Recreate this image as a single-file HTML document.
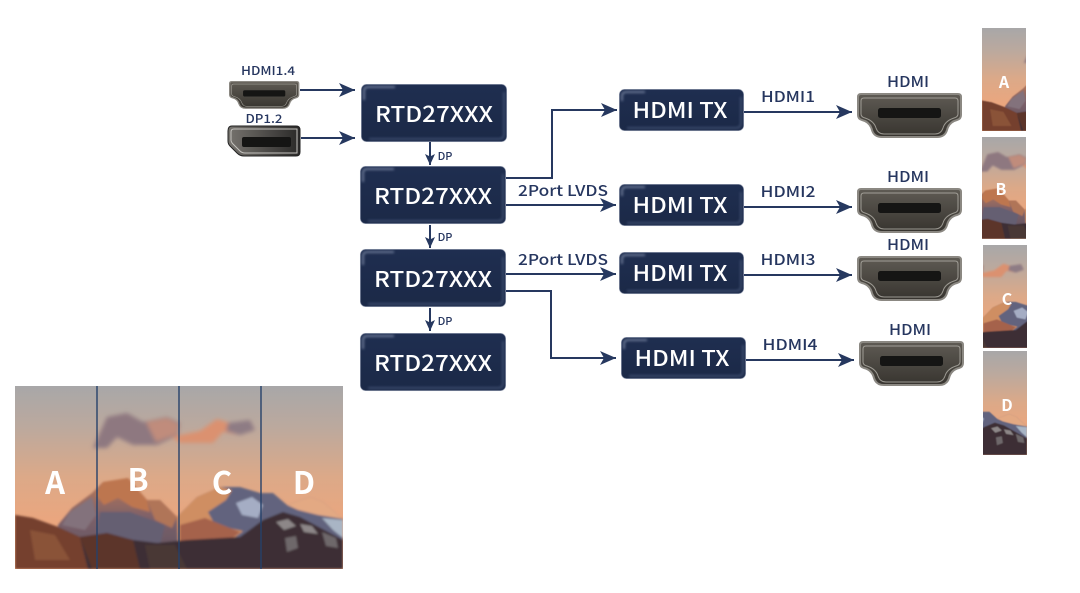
<!DOCTYPE html>
<html lang="en">
<head>
<meta charset="utf-8">
<title>RTD27XXX HDMI diagram</title>
<style>
html,body{margin:0;padding:0;background:#fff;}
svg{display:block;}
text{font-family:"Noto Sans CJK SC","Liberation Sans",sans-serif;}
.bx{fill:#fff;font-weight:500;text-anchor:middle;font-size:22px;}
.lb{fill:#26365f;font-weight:500;text-anchor:middle;font-size:15px;}
.ln{fill:none;stroke:#26385f;stroke-width:2;}
.ph{fill:#fff;font-weight:700;text-anchor:middle;}
</style>
</head>
<body>
<svg width="1080" height="593" viewBox="0 0 1080 593" xmlns="http://www.w3.org/2000/svg">
<defs>
  <linearGradient id="sky2" x1="0" y1="0" x2="0" y2="1">
    <stop offset="0" stop-color="#a8a7a8"/>
    <stop offset=".22" stop-color="#bba99e"/>
    <stop offset=".5" stop-color="#dca988"/>
    <stop offset=".75" stop-color="#eba67e"/>
    <stop offset="1" stop-color="#eba67e"/>
  </linearGradient>
  <linearGradient id="mL" x1="0" y1="0" x2="0" y2="1">
    <stop offset="0" stop-color="#bd7a56"/>
    <stop offset=".45" stop-color="#7c6069"/>
    <stop offset="1" stop-color="#57505e"/>
  </linearGradient>
  <linearGradient id="box" x1="0" y1="0" x2="0" y2="1">
    <stop offset="0" stop-color="#1f2e50"/>
    <stop offset="1" stop-color="#1b2947"/>
  </linearGradient>
  <linearGradient id="conn" x1="0" y1="0" x2="0" y2="1">
    <stop offset="0" stop-color="#5f5b54"/>
    <stop offset="1" stop-color="#37342f"/>
  </linearGradient>
  <linearGradient id="conn2" x1="0" y1="0" x2="1" y2="0">
    <stop offset="0" stop-color="#76736e"/>
    <stop offset="1" stop-color="#2a2928"/>
  </linearGradient>
  <filter id="b1" x="-5%" y="-5%" width="110%" height="110%"><feGaussianBlur stdDeviation="1"/></filter>
  <filter id="b2" x="-20%" y="-40%" width="140%" height="180%"><feGaussianBlur stdDeviation="2"/></filter>
  <filter id="hb" x="-30%" y="-30%" width="160%" height="160%"><feGaussianBlur stdDeviation="1.4"/></filter>
  <clipPath id="cp"><rect x="15" y="386" width="328" height="183"/></clipPath>
  <g id="scene" clip-path="url(#cp)">
    <rect x="15" y="386" width="328" height="183" fill="url(#sky2)"/>
    <g filter="url(#b2)">
      <path d="M93 448L107 417L127 413L143 422L167 417L180 423L178 435L157 445L133 445L117 437L107 448Z" fill="#8e7880"/>
      <path d="M146 422L167 418L179 424L177 434L156 442Z" fill="#c08c7c"/>
      <path d="M172 437L200 431L217 419L233 424L250 420L255 430L240 435L223 432L213 443L180 443Z" fill="#db9170"/>
      <path d="M228 423L250 420L255 430L240 435L226 431Z" fill="#8e7b84"/>
    </g>
    <g filter="url(#b1)">
      <path d="M58 525L72 508L92 493L103 482L128 478L147 500L160 500L177 517V569H58Z" fill="url(#mL)"/>
      <path d="M96 495L103 482L128 478L147 500L150 512L132 507L118 498L104 505Z" fill="#bd7650"/>
      <path d="M147 500L160 500L177 517L172 528L155 520Z" fill="#b07458"/>
      <path d="M70 512L92 497L96 515L85 530L62 525Z" fill="#83727c"/>
      <path d="M100 512L130 512L165 525L160 545H95Z" fill="#655e72"/>
      <path d="M177 517L197 497L220 487L240 487L260 493L273 493L287 505L310 497L323 502L343 519V569H177Z" fill="#62637e"/>
      <path d="M177 517L197 497L220 487L232 490L226 500L208 512L215 525L243 531L225 545H178Z" fill="#cf8e62"/>
      <path d="M180 525L205 518L240 532L220 548H180Z" fill="#a5624c"/>
      <path d="M236 503L252 497L263 505L258 518L242 515Z" fill="#a5adc4"/>
      <path d="M287 505L310 497L323 502L343 519L318 515L298 510Z" fill="#e3a983"/>
      <path d="M322 518L343 520V538L333 530Z" fill="#a9b5c5"/>
      <path d="M15 515L33 518L58 527L80 537L107 533L133 540L157 543L187 540L240 537L263 520L283 512L300 517L343 540V569H15Z" fill="#3d2f35"/>
      <path d="M15 515L33 518L58 527L80 537L88 569H15Z" fill="#74412f"/>
      <path d="M30 530L55 535L70 560L35 560Z" fill="#8a5238"/>
      <path d="M80 537L107 533L133 540L140 569H92Z" fill="#5c352c"/>
      <path d="M145 545L175 545L187 569H150Z" fill="#4a3835"/>
      <path d="M276 522L288 519L296 526L284 530Z" fill="#8d8788"/>
      <path d="M300 524L312 526L318 534L304 532Z" fill="#8d8788"/>
      <path d="M285 538L296 536L298 548L287 552Z" fill="#6e686a"/>
      <path d="M322 532L336 538L338 548L326 546Z" fill="#6e686a"/>
    </g>
  </g>
  <path id="hp" d="M4 1H101Q104 1 104 4V22Q104 26 100 27Q92 29 90 37Q88 44 80 44H25Q17 44 15 37Q13 29 5 27Q1 26 1 22V4Q1 1 4 1Z"/>
  <g id="hdmi">
    <use href="#hp" fill="url(#conn)" stroke="#8b8882" stroke-width="2"/>
    <path d="M7 5H98Q101 5 101 8V21Q101 24 97 25Q88 28 86 35Q84 41 78 41H27Q21 41 19 35Q17 28 8 25Q4 24 4 21V8Q4 5 7 5Z" fill="none" stroke="#b3b0a9" stroke-width="1" stroke-opacity=".8"/>
    <rect x="21" y="15" width="63" height="10" rx="2.5" fill="#151514"/>
  </g>
  <marker id="ah" markerUnits="userSpaceOnUse" markerWidth="18" markerHeight="14" refX="16" refY="7" orient="auto">
    <path d="M0 0L16 7L0 14L4 7Z" fill="#26385f"/>
  </marker>
  <marker id="ah2" markerUnits="userSpaceOnUse" markerWidth="12" markerHeight="10" refX="11" refY="5" orient="auto">
    <path d="M0 0L11 5L0 10L2.5 5Z" fill="#26385f"/>
  </marker>
  <g id="bigbox">
    <rect x=".5" y=".5" width="145" height="57" rx="5" fill="url(#box)" stroke="#4a5877" stroke-opacity=".5"/>
    <path d="M3 16V7Q3 3 7 3H34" fill="none" stroke="#8d9ab4" stroke-width="2" opacity=".7" filter="url(#hb)"/>
    <path d="M143 8V50Q143 55 138 55H8" fill="none" stroke="#4a5a7c" stroke-width="2" opacity=".7" filter="url(#hb)"/>
  </g>
  <g id="txbox">
    <rect x=".5" y=".5" width="124" height="41" rx="5" fill="url(#box)" stroke="#4a5877" stroke-opacity=".5"/>
    <path d="M3 12V7Q3 3 7 3H26" fill="none" stroke="#8d9ab4" stroke-width="2" opacity=".7" filter="url(#hb)"/>
    <path d="M122 8V34Q122 39 117 39H8" fill="none" stroke="#4a5a7c" stroke-width="2" opacity=".7" filter="url(#hb)"/>
  </g>
  <clipPath id="ca"><rect x="982" y="28" width="44" height="103"/></clipPath>
  <clipPath id="cb"><rect x="982" y="137" width="44" height="102"/></clipPath>
  <clipPath id="cc"><rect x="983" y="245" width="44" height="103"/></clipPath>
  <clipPath id="cd"><rect x="983" y="351" width="44" height="104"/></clipPath>
</defs>

<rect width="1080" height="593" fill="#fff"/>

<!-- big photo -->
<use href="#scene"/>
<path d="M97 386V569M179 386V569M261 386V569" stroke="#26416a" stroke-width="1.4"/>
<text class="ph" x="55" y="494" style="font-size:31px">A</text>
<text class="ph" x="138" y="491" style="font-size:31px">B</text>
<text class="ph" x="222" y="494" style="font-size:31px">C</text>
<text class="ph" x="304" y="494" style="font-size:31px">D</text>

<!-- side slices -->
<g clip-path="url(#ca)"><use href="#scene" transform="translate(982,28) scale(.537,.563) translate(-15,-386)"/></g>
<g clip-path="url(#cb)"><use href="#scene" transform="translate(982,137) scale(.537,.557) translate(-97,-386)"/></g>
<g clip-path="url(#cc)"><use href="#scene" transform="translate(983,245) scale(.537,.563) translate(-179,-386)"/></g>
<g clip-path="url(#cd)"><use href="#scene" transform="translate(983,351) scale(.537,.568) translate(-261,-386)"/></g>
<text class="ph" x="1004" y="88" style="font-size:16px">A</text>
<text class="ph" x="1001" y="195" style="font-size:16px">B</text>
<text class="ph" x="1007" y="305" style="font-size:16px">C</text>
<text class="ph" x="1007" y="411" style="font-size:16px">D</text>

<!-- inputs -->
<text class="lb" x="268" y="75" style="font-size:12px" textLength="54" lengthAdjust="spacingAndGlyphs">HDMI1.4</text>
<text class="lb" x="264" y="123" style="font-size:12px" textLength="37" lengthAdjust="spacingAndGlyphs">DP1.2</text>
<g transform="translate(229,81) scale(.67,.62)"><use href="#hdmi"/></g>
<path d="M228 131Q228 126 232 126H296Q300 126 300 130V152Q300 156 296 156H244Q240 156 237 153L230 146Q228 144 228 141Z" fill="url(#conn2)" stroke="#222" stroke-width="1"/>
<path d="M231 132Q231 129 234 129H297V153H245Q242 153 240 151L233 144Q231 142 231 140Z" fill="none" stroke="#c4c2be" stroke-width="1"/>
<rect x="242" y="137" width="49" height="10" rx="2" fill="#151514"/>

<path class="ln" d="M300 90H355" marker-end="url(#ah)"/>
<path class="ln" d="M301 138H355" marker-end="url(#ah)"/>

<!-- RTD boxes -->
<use href="#bigbox" transform="translate(361,84)"/>
<use href="#bigbox" transform="translate(360,166)"/>
<use href="#bigbox" transform="translate(360,249)"/>
<use href="#bigbox" transform="translate(360,333)"/>
<text class="bx" x="434" y="122" textLength="118" lengthAdjust="spacingAndGlyphs">RTD27XXX</text>
<text class="bx" x="433" y="204" textLength="118" lengthAdjust="spacingAndGlyphs">RTD27XXX</text>
<text class="bx" x="433" y="287" textLength="118" lengthAdjust="spacingAndGlyphs">RTD27XXX</text>
<text class="bx" x="433" y="371" textLength="118" lengthAdjust="spacingAndGlyphs">RTD27XXX</text>

<!-- DP arrows -->
<path class="ln" d="M430 142V165" marker-end="url(#ah2)"/>
<path class="ln" d="M430 225V248" marker-end="url(#ah2)"/>
<path class="ln" d="M430 308V331" marker-end="url(#ah2)"/>
<text class="lb" x="445" y="160" style="font-size:11px">DP</text>
<text class="lb" x="445" y="241" style="font-size:11px">DP</text>
<text class="lb" x="445" y="325" style="font-size:11px">DP</text>

<!-- routes -->
<path class="ln" d="M506 178H552V110H617" marker-end="url(#ah)"/>
<path class="ln" d="M506 205H616" marker-end="url(#ah)"/>
<path class="ln" d="M506 274H616" marker-end="url(#ah)"/>
<path class="ln" d="M506 291H551V358H616" marker-end="url(#ah)"/>
<text class="lb" x="563" y="196" textLength="90" lengthAdjust="spacingAndGlyphs">2Port LVDS</text>
<text class="lb" x="563" y="265" textLength="90" lengthAdjust="spacingAndGlyphs">2Port LVDS</text>

<!-- TX boxes -->
<use href="#txbox" transform="translate(619,89)"/>
<use href="#txbox" transform="translate(619,184)"/>
<use href="#txbox" transform="translate(619,252)"/>
<use href="#txbox" transform="translate(621,337)"/>
<text class="bx" x="680" y="118" textLength="95" lengthAdjust="spacingAndGlyphs">HDMI TX</text>
<text class="bx" x="680" y="213" textLength="95" lengthAdjust="spacingAndGlyphs">HDMI TX</text>
<text class="bx" x="680" y="281" textLength="95" lengthAdjust="spacingAndGlyphs">HDMI TX</text>
<text class="bx" x="682" y="366" textLength="95" lengthAdjust="spacingAndGlyphs">HDMI TX</text>

<!-- outputs -->
<path class="ln" d="M744 112H852" marker-end="url(#ah)"/>
<path class="ln" d="M744 207H852" marker-end="url(#ah)"/>
<path class="ln" d="M744 275H852" marker-end="url(#ah)"/>
<path class="ln" d="M746 360H854" marker-end="url(#ah)"/>
<text class="lb" x="788" y="102" textLength="54" lengthAdjust="spacingAndGlyphs">HDMI1</text>
<text class="lb" x="788" y="197" textLength="55" lengthAdjust="spacingAndGlyphs">HDMI2</text>
<text class="lb" x="788" y="265" textLength="55" lengthAdjust="spacingAndGlyphs">HDMI3</text>
<text class="lb" x="790" y="350" textLength="55" lengthAdjust="spacingAndGlyphs">HDMI4</text>

<use href="#hdmi" transform="translate(857,93)"/>
<use href="#hdmi" transform="translate(857,188)"/>
<use href="#hdmi" transform="translate(857,256)"/>
<use href="#hdmi" transform="translate(859,341)"/>
<text class="lb" x="908" y="87" textLength="42" lengthAdjust="spacingAndGlyphs">HDMI</text>
<text class="lb" x="908" y="182" textLength="42" lengthAdjust="spacingAndGlyphs">HDMI</text>
<text class="lb" x="908" y="250" textLength="42" lengthAdjust="spacingAndGlyphs">HDMI</text>
<text class="lb" x="910" y="335" textLength="42" lengthAdjust="spacingAndGlyphs">HDMI</text>
</svg>
</body>
</html>
